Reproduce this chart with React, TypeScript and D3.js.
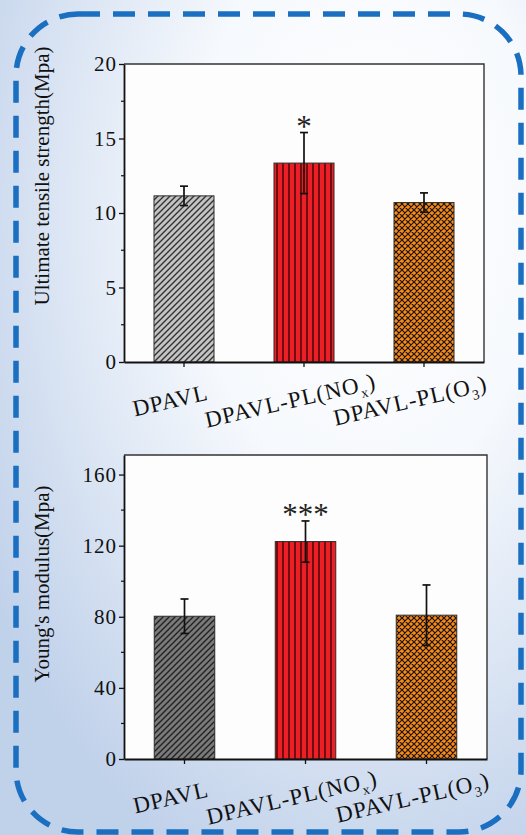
import { useEffect, useRef } from "react";
import * as d3 from "d3";

// data
const categories = ["DPAVL", "DPAVL-PL(NOx)", "DPAVL-PL(O3)"];
// label pieces: [text, subscript, text]
const categoryLabels = [
  ["DPAVL", "", ""],
  ["DPAVL-PL(NO", "x", ")"],
  ["DPAVL-PL(O", "3", ")"],
];
const tensileMean = [11.15, 13.35, 10.7];
const tensileErr = [0.65, 2.05, 0.65];
const tensileSig = ["", "*", ""];
const tensileTicks = [0, 5, 10, 15, 20];

const modulusMean = [80.3, 122.3, 80.9];
const modulusErr = [9.7, 11.6, 17];
const modulusSig = ["", "***", ""];
const modulusTicks = [0, 40, 80, 120, 160];

const W = 526;
const H = 835;
const FONT = "'Liberation Serif', 'Times New Roman', serif";

const App = () => {
  const svgRef = useRef(null);

  useEffect(() => {
    const svg = d3.select(svgRef.current);
    svg.selectAll("*").remove();

    const defs = svg.append("defs");

    // background gradient
    const grad = defs
      .append("radialGradient")
      .attr("id", "bg")
      .attr("cx", "70%")
      .attr("cy", "25%")
      .attr("r", "85%");
    grad.append("stop").attr("offset", "0%").attr("stop-color", "#ffffff");
    grad.append("stop").attr("offset", "40%").attr("stop-color", "#f6f9fd");
    grad.append("stop").attr("offset", "100%").attr("stop-color", "#c0d1ea");

    // hatch patterns
    const diag = (id, fill, stroke) => {
      const p = defs
        .append("pattern")
        .attr("id", id)
        .attr("patternUnits", "userSpaceOnUse")
        .attr("width", 6)
        .attr("height", 6);
      p.append("rect").attr("width", 6).attr("height", 6).attr("fill", fill);
      p.append("path")
        .attr("d", "M-1,7 L7,-1 M-4,4 L4,-4 M2,10 L10,2")
        .attr("stroke", stroke)
        .attr("stroke-width", 1.4);
    };
    diag("hatchLight", "#c4c4c4", "#333");
    diag("hatchDark", "#7a7a7a", "#222");

    const vert = defs
      .append("pattern")
      .attr("id", "vert")
      .attr("patternUnits", "userSpaceOnUse")
      .attr("width", 6)
      .attr("height", 6);
    vert.append("rect").attr("width", 6).attr("height", 6).attr("fill", "#ec1f27");
    vert
      .append("line")
      .attr("x1", 1)
      .attr("x2", 1)
      .attr("y1", 0)
      .attr("y2", 6)
      .attr("stroke", "#3a0606")
      .attr("stroke-width", 1.4);

    const cross = defs
      .append("pattern")
      .attr("id", "cross")
      .attr("patternUnits", "userSpaceOnUse")
      .attr("width", 6)
      .attr("height", 6);
    cross.append("rect").attr("width", 6).attr("height", 6).attr("fill", "#f28a1f");
    cross
      .append("path")
      .attr("d", "M0,0 L6,6 M6,0 L0,6 M-1,5 L1,7 M5,-1 L7,1 M-1,1 L1,-1 M5,7 L7,5")
      .attr("stroke", "#1e1204")
      .attr("stroke-width", 1.2);

    // page background + dashed rounded frame
    svg.append("rect").attr("width", W).attr("height", H).attr("fill", "url(#bg)");
    svg
      .append("rect")
      .attr("x", 16)
      .attr("y", 14)
      .attr("width", 505)
      .attr("height", 818)
      .attr("rx", 62)
      .attr("fill", "none")
      .attr("stroke", "#1a6fc0")
      .attr("stroke-width", 5.5)
      .attr("stroke-dasharray", "22,13");

    const drawPanel = (cfg) => {
      const { top, bottom, left, right, max, means, errs, sig, ticks, fills, title, titleY } = cfg;

      const x = d3
        .scaleBand()
        .domain(categories)
        .range([left, right])
        .paddingInner(0.5)
        .paddingOuter(0.25);

      const y = d3.scaleLinear().domain([0, max]).range([bottom, top]);

      const g = svg.append("g");

      // plot area
      g.append("rect")
        .attr("x", left)
        .attr("y", top)
        .attr("width", right - left)
        .attr("height", bottom - top)
        .attr("fill", "#fdfdfd");

      // bars
      g.selectAll(".bar")
        .data(categories)
        .enter()
        .append("rect")
        .attr("x", (d) => x(d))
        .attr("y", (d, i) => y(means[i]))
        .attr("width", x.bandwidth())
        .attr("height", (d, i) => bottom - y(means[i]))
        .attr("fill", (d, i) => `url(#${fills[i]})`)
        .attr("stroke", "#2b2b2b")
        .attr("stroke-width", 1);

      // error bars
      const eb = g
        .selectAll(".err")
        .data(categories)
        .enter()
        .append("g")
        .attr("stroke", "#111")
        .attr("stroke-width", 1.7);
      eb.append("line")
        .attr("x1", (d) => x(d) + x.bandwidth() / 2)
        .attr("x2", (d) => x(d) + x.bandwidth() / 2)
        .attr("y1", (d, i) => y(means[i] + errs[i]))
        .attr("y2", (d, i) => y(means[i] - errs[i]));
      [1, -1].forEach((s) => {
        eb.append("line")
          .attr("x1", (d) => x(d) + x.bandwidth() / 2 - 4)
          .attr("x2", (d) => x(d) + x.bandwidth() / 2 + 4)
          .attr("y1", (d, i) => y(means[i] + s * errs[i]))
          .attr("y2", (d, i) => y(means[i] + s * errs[i]));
      });

      // significance stars
      g.selectAll(".sig")
        .data(categories)
        .enter()
        .append("text")
        .attr("x", (d) => x(d) + x.bandwidth() / 2)
        .attr("y", (d, i) => y(means[i] + errs[i]) + 4)
        .attr("text-anchor", "middle")
        .style("font-family", FONT)
        .style("font-size", "31px")
        .style("letter-spacing", "0px")
        .attr("fill", "#222")
        .text((d, i) => sig[i]);

      // frame (top + right)
      g.append("path")
        .attr("d", `M${left},${top} H${right} V${bottom}`)
        .attr("fill", "none")
        .attr("stroke", "#333")
        .attr("stroke-width", 1.4);

      // left axis
      const yAxis = g
        .append("g")
        .attr("transform", `translate(${left},0)`)
        .call(d3.axisLeft(y).tickValues(ticks).tickSize(5).tickPadding(2).tickSizeOuter(0));
      yAxis.select(".domain").attr("stroke", "#111").attr("stroke-width", 1.8);
      yAxis.selectAll(".tick line").attr("stroke", "#111").attr("stroke-width", 1.3);
      yAxis
        .selectAll("text")
        .style("font-family", FONT)
        .style("font-size", "21px")
        .style("letter-spacing", "1px")
        .attr("fill", "#111");

      // minor ticks
      const step = ticks[1] - ticks[0];
      g.selectAll(".minor")
        .data(ticks.slice(0, -1).map((t) => t + step / 2))
        .enter()
        .append("line")
        .attr("x1", left - 3)
        .attr("x2", left)
        .attr("y1", (d) => y(d))
        .attr("y2", (d) => y(d))
        .attr("stroke", "#111")
        .attr("stroke-width", 1.2);

      // bottom axis
      const xAxis = g
        .append("g")
        .attr("transform", `translate(0,${bottom})`)
        .call(d3.axisBottom(x).tickSize(5).tickSizeOuter(0).tickFormat(""));
      xAxis.select(".domain").attr("stroke", "#111").attr("stroke-width", 1.8);
      xAxis.selectAll(".tick line").attr("stroke", "#111").attr("stroke-width", 1.3);

      // rotated category labels
      categories.forEach((c, i) => {
        const [a, sub, b] = categoryLabels[i];
        const t = g
          .append("text")
          .attr(
            "transform",
            `translate(${x(c) + x.bandwidth() / 2 - 12},${bottom + 46}) rotate(-13)`
          )
          .attr("text-anchor", "middle")
          .style("font-family", FONT)
          .style("font-size", "23px")
          .style("letter-spacing", "1px")
          .attr("fill", "#111");
        t.append("tspan").text(a);
        if (sub) {
          t.append("tspan").attr("dy", 6).style("font-size", "14px").text(sub);
          t.append("tspan").attr("dy", -6).text(b);
        }
      });

      // y title
      g.append("text")
        .attr("transform", `translate(49,${titleY}) rotate(-90)`)
        .attr("text-anchor", "middle")
        .style("font-family", FONT)
        .style("font-size", "21px")
        .attr("fill", "#111")
        .text(title);
    };

    drawPanel({
      top: 64,
      bottom: 362,
      left: 124,
      right: 484,
      max: 20,
      means: tensileMean,
      errs: tensileErr,
      sig: tensileSig,
      ticks: tensileTicks,
      fills: ["hatchLight", "vert", "cross"],
      title: "Ultimate tensile strength(Mpa)",
      titleY: 176,
    });

    drawPanel({
      top: 455,
      bottom: 759,
      left: 124,
      right: 487,
      max: 171,
      means: modulusMean,
      errs: modulusErr,
      sig: modulusSig,
      ticks: modulusTicks,
      fills: ["hatchDark", "vert", "cross"],
      title: "Young's modulus(Mpa)",
      titleY: 584,
    });
  }, []);

  return (
    <div style={{ position: "absolute", left: 0, top: 0 }}>
      <svg ref={svgRef} width={W} height={H} style={{ display: "block" }}></svg>
    </div>
  );
};

export default App;
